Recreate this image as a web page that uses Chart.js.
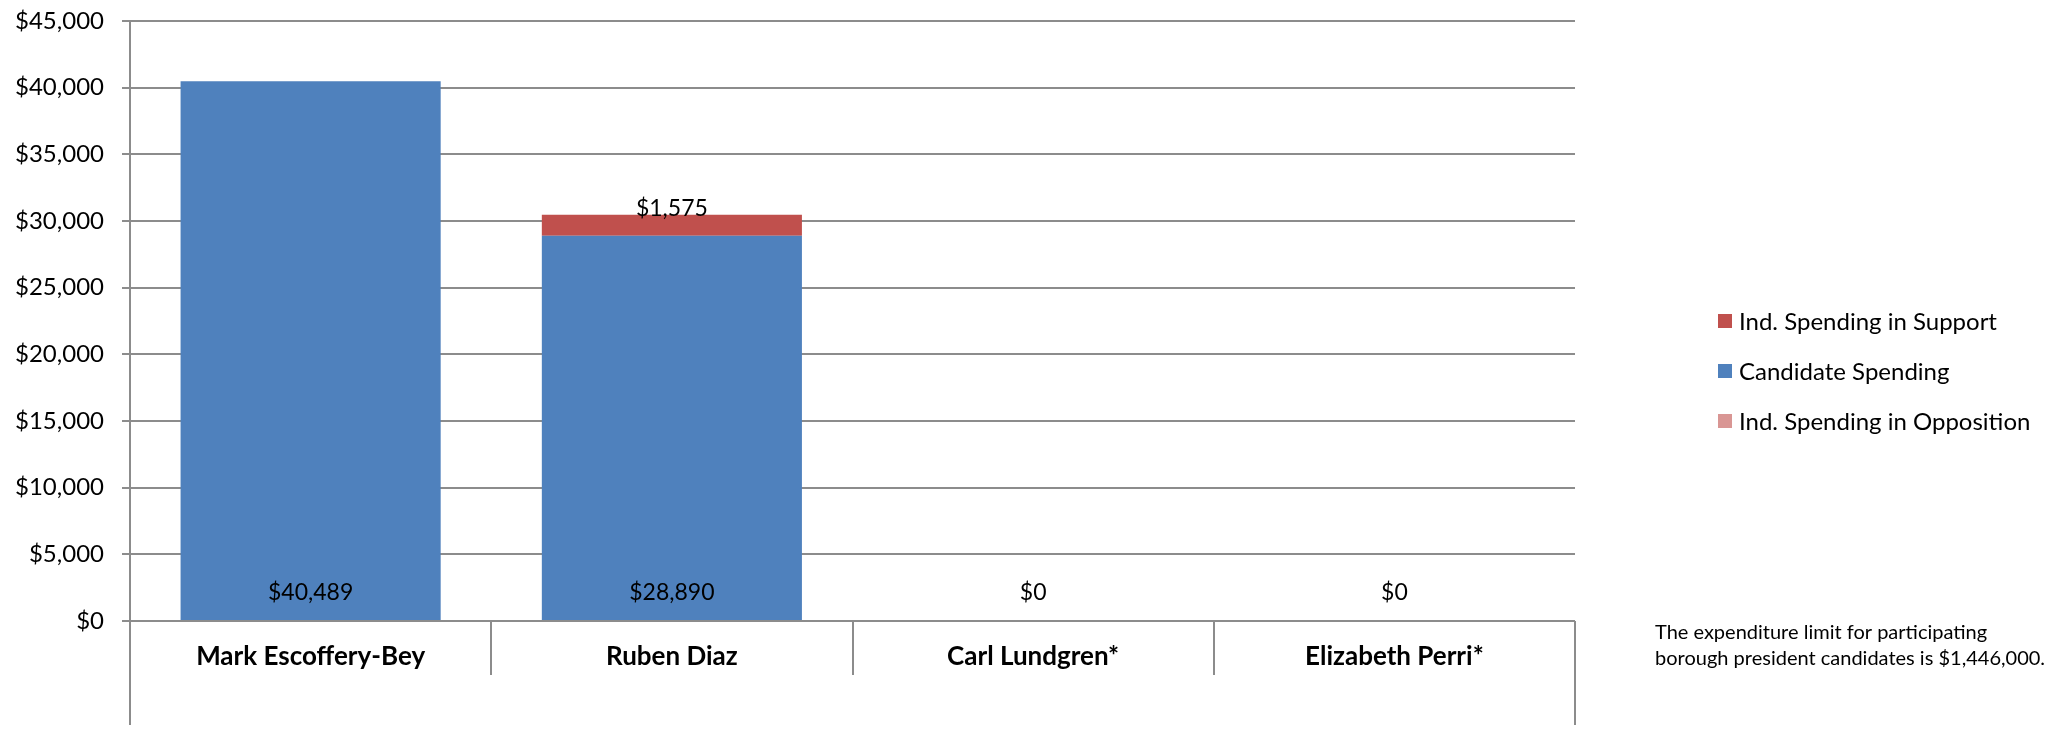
<!DOCTYPE html>
<html>
<head>
<meta charset="utf-8">
<script src="https://cdn.jsdelivr.net/npm/chart.js@4.4.0/dist/chart.umd.min.js"></script>
<style>
  html, body { margin: 0; padding: 0; background: #fff; }
</style>
</head>
<body>
<canvas id="spendChart" width="2063" height="729"></canvas>
<script>
// chart data
const candidates = ['Mark Escoffery-Bey', 'Ruben Diaz', 'Carl Lundgren*', 'Elizabeth Perri*'];
const candidateSpending = [40489, 28890, 0, 0];
const supportSpending = [0, 1575, 0, 0];
const oppositionSpending = [0, 0, 0, 0];
const yTicks = [0, 5000, 10000, 15000, 20000, 25000, 30000, 35000, 40000, 45000];
const legendOrder = ['Ind. Spending in Support', 'Candidate Spending', 'Ind. Spending in Opposition'];
const noteLines = ['The expenditure limit for participating', 'borough president candidates is $1,446,000.'];

const FONT = 'Lato, "Open Sans", sans-serif';
const GRID = '#8c8c8c';

function money(v) {
    return '$' + Number(v).toLocaleString('en-US');
}

// labels, separators, legend and note drawn on top
const extras = {
    id: 'extras',
    afterDraw(chart) {
        const ctx = chart.ctx;
        const area = chart.chartArea;
        const x = chart.scales.x;
        const y = chart.scales.y;
        const step = (area.right - area.left) / candidates.length;

        ctx.save();
        ctx.strokeStyle = GRID;
        ctx.lineWidth = 2;
        ctx.beginPath();
        // left axis line running down past the labels
        ctx.moveTo(area.left, area.top);
        ctx.lineTo(area.left, 725);
        // right edge below the axis
        ctx.moveTo(area.right, area.bottom);
        ctx.lineTo(area.right, 725);
        for (let i = 1; i < candidates.length; i++) {
            const px = Math.round(area.left + i * step);
            ctx.moveTo(px, area.bottom);
            ctx.lineTo(px, area.bottom + 54);
        }
        ctx.stroke();

        // value labels
        ctx.fillStyle = '#000';
        ctx.font = '23px ' + FONT;
        ctx.textAlign = 'center';
        ctx.textBaseline = 'middle';
        candidates.forEach((c, i) => {
            const cx = x.getPixelForValue(i);
            ctx.fillText(money(candidateSpending[i]), cx, y.getPixelForValue(0) - 28);
            if (supportSpending[i] > 0) {
                const top = y.getPixelForValue(candidateSpending[i] + supportSpending[i]);
                ctx.fillText(money(supportSpending[i]), cx, top - 6);
            }
        });

        // legend
        ctx.textAlign = 'left';
        ctx.font = '24px ' + FONT;
        legendOrder.forEach((name, i) => {
            const ds = chart.data.datasets.find(d => d.label === name);
            const cy = 321 + i * 50;
            ctx.fillStyle = ds.backgroundColor;
            ctx.fillRect(1718, cy - 7, 14, 14);
            ctx.fillStyle = '#000';
            ctx.fillText(name, 1739, cy + 1);
        });

        // note
        ctx.font = '20px ' + FONT;
        noteLines.forEach((line, i) => {
            ctx.fillText(line, 1655, 633 + i * 26);
        });
        ctx.restore();
    }
};

const ctx = document.getElementById('spendChart').getContext('2d');
const spendChart = new Chart(ctx, {
    type: 'bar',
    data: {
        labels: candidates,
        datasets: [{
            label: 'Candidate Spending',
            data: candidateSpending,
            backgroundColor: '#4F81BD'
        }, {
            label: 'Ind. Spending in Support',
            data: supportSpending,
            backgroundColor: '#C0504D'
        }, {
            label: 'Ind. Spending in Opposition',
            data: oppositionSpending,
            backgroundColor: '#D99694'
        }]
    },
    options: {
        responsive: false,
        animation: false,
        layout: {
            padding: { top: 21, right: 488, bottom: 0, left: 0 }
        },
        plugins: {
            legend: { display: false },
            tooltip: { enabled: false }
        },
        scales: {
            x: {
                stacked: true,
                categoryPercentage: 1,
                barPercentage: 0.69,
                grid: { display: false, drawTicks: false },
                border: { display: false },
                ticks: {
                    padding: 20,
                    color: '#000',
                    font: { family: FONT, size: 26, weight: 'bold' }
                },
                afterFit(scale) {
                    scale.height = 108;
                    scale.paddingLeft = 0;
                    scale.paddingRight = 0;
                }
            },
            y: {
                stacked: true,
                min: 0,
                max: 45000,
                afterBuildTicks(scale) {
                    scale.ticks = yTicks.map(v => ({ value: v }));
                },
                grid: { color: GRID, lineWidth: 2, tickLength: 8 },
                border: { display: false },
                ticks: {
                    padding: 18,
                    color: '#000',
                    font: { family: FONT, size: 24 },
                    callback: v => money(v)
                },
                afterFit(scale) {
                    scale.width = 130;
                    scale.paddingTop = 0;
                    scale.paddingBottom = 0;
                }
            }
        }
    },
    plugins: [extras]
});
</script>
</body>
</html>
